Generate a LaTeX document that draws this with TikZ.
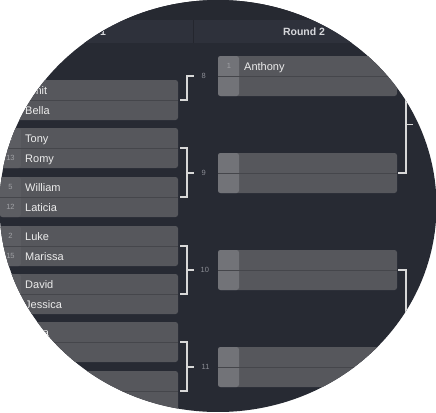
\documentclass[tikz,border=0pt]{standalone}
\usepackage{fontspec}
\setmainfont{Liberation Sans}
\usetikzlibrary{calc}
\definecolor{bgc}{HTML}{272A33}
\definecolor{topc}{HTML}{262931}
\definecolor{hdrc}{HTML}{2E313B}
\definecolor{divc}{HTML}{24262E}
\definecolor{boxc}{HTML}{56575C}
\definecolor{seedcA}{HTML}{5C5D62}
\definecolor{seedcB}{HTML}{727378}
\definecolor{sepc}{HTML}{45464B}
\definecolor{namec}{HTML}{ECECEC}
\definecolor{seedtc}{HTML}{A0A1A5}
\definecolor{lblc}{HTML}{8B8D95}
\definecolor{linec}{HTML}{D8D8D8}
\definecolor{hdtc}{HTML}{D6D7DB}
\begin{document}
\begin{tikzpicture}[x=1bp,y=-1bp,
  pairbox/.style 2 args={anchor=north west, inner sep=0pt, outer sep=0pt,
    minimum width=#1, minimum height=40bp, rounded corners=2.5bp, fill=boxc,
    path picture={
      \fill[#2] (path picture bounding box.north west) rectangle ([xshift=21bp]path picture bounding box.south west);
      \draw[sepc, line width=1bp] (path picture bounding box.west) -- (path picture bounding box.east);}},
  nm/.style={anchor=base west, inner sep=0pt, text=namec, font=\fontsize{11bp}{13bp}\selectfont},
  sd/.style={anchor=base, inner sep=0pt, text=seedtc, font=\fontsize{7.5bp}{9bp}\selectfont},
  lbl/.style={anchor=west, inner sep=0pt, text=lblc, font=\fontsize{7.5bp}{9bp}\selectfont},
  hd/.style={inner sep=0pt, text=hdtc, font=\bfseries\fontsize{10.5bp}{12bp}\selectfont},
  br/.style={draw=linec, line width=1.5bp}]
\useasboundingbox (0,0) rectangle (436,412);
\fill[white] (0,0) rectangle (436,412);
\begin{scope}
\clip (218,206) ellipse [x radius=218.5bp, y radius=206bp];
\fill[bgc] (0,0) rectangle (436,412);
\fill[topc] (0,0) rectangle (436,20);
\fill[hdrc] (0,20) rectangle (436,43);
\draw[divc, line width=1bp] (193,20) -- (193,43);
\node[hd] (h1) at (85,32) {Round 1};
\node[hd] (h2) at (304,32) {Round 2};
% Round 1 pairs
\foreach \t/\id/\sa/\na/\sb/\nb in {80/8b/8/Amit/9/Bella, 128/9a/4/Tony/13/Romy, 177/9b/5/William/12/Laticia, 226/10a/2/Luke/15/Marissa, 274/10b/7/David/10/Jessica, 322/11a//Nora//, 371/11b////}{
  \node[pairbox={178bp}{seedcA}] (P\id) at (0,\t) {};
  \node[nm] (N\id a) at (25,\t+14) {\na};
  \node[nm] (N\id b) at (25,\t+34) {\nb};
  \node[sd] (S\id a) at (10.5,\t+12.7) {\sa};
  \node[sd] (S\id b) at (10.5,\t+32.7) {\sb};
}
% Round 2 matches
\foreach \t/\id in {56/8, 153/9, 250/10, 347/11}{
  \node[pairbox={179bp}{seedcB}] (Q\id) at (218,\t) {};
}
\node[nm] (A1) at (244,70) {Anthony};
\node[sd] (AS1) at (229,68.7) {1};
% labels
\node[lbl] (L8) at (201.5,76) {8};
\node[lbl] (L9) at (201.5,173) {9};
\node[lbl] (L10) at (200.5,270) {10};
\node[lbl] (L11) at (201.5,367) {11};
% brackets round 1
\draw[br] ([xshift=2bp]P8b.east) -- ++(7,0) coordinate (v8) -- (v8 |- L8.west) -- ++(7,0);
\foreach \m in {9,10,11}{
  \draw[br] ([xshift=2bp]P\m a.east) -- ++(7,0) coordinate (v\m) |- ([xshift=2bp]P\m b.east);
  \draw[br] (v\m |- L\m.west) -- ++(7,0);
}
% brackets round 2
\draw[br] ([xshift=1bp]Q8.east) -- ++(8,0) coordinate (w8) |- ([xshift=1bp]Q9.east);
\draw[br] ($(w8)!0.5!(w8 |- Q9.east)$) -- ++(7,0);
\draw[br] ([xshift=1bp]Q10.east) -- ++(8,0) coordinate (w10) |- ([xshift=1bp]Q11.east);
\draw[br] ($(w10)!0.5!(w10 |- Q11.east)$) -- ++(7,0);
\end{scope}
\end{tikzpicture}
\end{document}
